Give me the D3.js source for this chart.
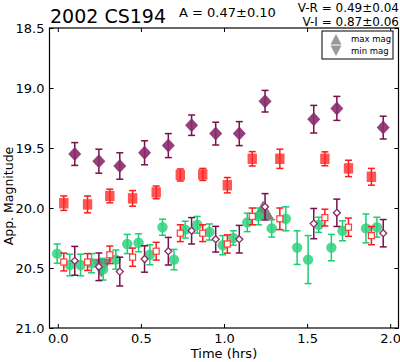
<!DOCTYPE html>
<html>
<head>
<meta charset="utf-8">
<script src="https://cdn.jsdelivr.net/npm/d3@7"></script>
<style>
  body { margin: 0; background: #fff; }
  text { font-family: "DejaVu Sans", sans-serif; }
</style>
</head>
<body>
<div id="chart"></div>
<script>
// lightcurve data (time in hrs, apparent magnitude, error)

// filled diamonds / open diamonds (shifted) share the same times
const iTime = [0.102, 0.247, 0.373, 0.522, 0.665, 0.805, 0.95, 1.092, 1.247, 1.54, 1.679, 1.958];
const iMag  = [19.55, 19.61, 19.65, 19.54, 19.48, 19.31, 19.38, 19.38, 19.11, 19.26, 19.17, 19.33];
const iErr  = [0.095, 0.10, 0.11, 0.10, 0.10, 0.085, 0.095, 0.10, 0.09, 0.115, 0.10, 0.095];
const ivMag = [20.44, 20.49, 20.53, 20.425, 20.36, 20.19, 20.26, 20.26, 19.99, 20.13, 20.04, 20.21];
const ivErr = [0.12, 0.115, 0.12, 0.11, 0.115, 0.11, 0.107, 0.115, 0.11, 0.126, 0.114, 0.114];

// filled squares / open squares (shifted)
const rTime = [0.036, 0.179, 0.313, 0.45, 0.592, 0.737, 0.872, 1.02, 1.17, 1.336, 1.607, 1.749, 1.887];
const rMag  = [19.96, 19.97, 19.90, 19.92, 19.87, 19.725, 19.72, 19.81, 19.59, 19.59, 19.59, 19.67, 19.74];
const rErr  = [0.06, 0.07, 0.057, 0.065, 0.053, 0.05, 0.05, 0.064, 0.06, 0.08, 0.058, 0.068, 0.07];
const rvMag = [20.45, 20.45, 20.39, 20.41, 20.36, 20.21, 20.21, 20.30, 20.07, 20.09, 20.08, 20.16, 20.23];
const rvErr = [0.074, 0.07, 0.073, 0.076, 0.074, 0.07, 0.07, 0.076, 0.07, 0.09, 0.07, 0.076, 0.076];

// green circles
const vTime = [-0.004, 0.072, 0.137, 0.203, 0.273, 0.349, 0.418, 0.486, 0.554, 0.63, 0.699, 0.767, 0.839, 0.912,
               0.992, 1.056, 1.14, 1.207, 1.287, 1.372, 1.44, 1.506, 1.57, 1.646, 1.713, 1.854, 1.92];
const vMag  = [20.38, 20.475, 20.475, 20.46, 20.51, 20.43, 20.30, 20.29, 20.39, 20.16, 20.43, 20.18, 20.14, 20.20,
               20.31, 20.25, 20.12, 20.07, 20.17, 20.09, 20.33, 20.43, 20.14, 20.33, 20.19, 20.17, 20.16];
const vErr  = [0.08, 0.09, 0.09, 0.08, 0.09, 0.08, 0.08, 0.075, 0.083, 0.067, 0.085, 0.07, 0.07, 0.067,
               0.08, 0.06, 0.077, 0.07, 0.072, 0.1, 0.14, 0.2, 0.063, 0.11, 0.083, 0.12, 0.083];

// max / min magnitude markers
const extTime = [1.235, 0.262];
const extMag  = [20.04, 20.475];
const extKind = ["max", "min"];

const xTicks = [0.0, 0.5, 1.0, 1.5, 2.0];
const yTicks = [18.5, 19.0, 19.5, 20.0, 20.5, 21.0];

const W = 400, H = 362;
const margin = {top: 28, right: 1.5, bottom: 34, left: 49.5},
    width = W - margin.left - margin.right,
    height = H - margin.top - margin.bottom;

const svg = d3.select("#chart")
  .append("svg")
    .attr("width", W)
    .attr("height", H)
  .append("g")
    .attr("transform", "translate(" + margin.left + "," + margin.top + ")");

const x = d3.scaleLinear().domain([-0.05, 2.05]).range([0, width]);
const y = d3.scaleLinear().domain([18.5, 21.0]).range([0, height]);

// axes, ticks pointing inward on all sides
const fmt = d3.format(".1f");
svg.append("g")
  .attr("transform", "translate(0," + height + ")")
  .call(d3.axisBottom(x).tickValues(xTicks).tickFormat(fmt).tickSizeInner(-4).tickSizeOuter(0).tickPadding(6));
svg.append("g")
  .call(d3.axisTop(x).tickValues(xTicks).tickFormat("").tickSizeInner(-4).tickSizeOuter(0));
svg.append("g")
  .call(d3.axisLeft(y).tickValues(yTicks).tickFormat(fmt).tickSizeInner(-4).tickSizeOuter(0).tickPadding(5));
svg.append("g")
  .attr("transform", "translate(" + width + ",0)")
  .call(d3.axisRight(y).tickValues(yTicks).tickFormat("").tickSizeInner(-4).tickSizeOuter(0));

svg.selectAll(".domain").remove();
svg.selectAll(".tick line").attr("stroke", "#000");
svg.selectAll(".tick text").style("font-size", "13px").attr("fill", "#000");

svg.append("rect")
  .attr("width", width).attr("height", height)
  .attr("fill", "none").attr("stroke", "#000").attr("stroke-width", 1.2);

// max/min triangles
const tri = d3.symbol().type(d3.symbolTriangle).size(200);
svg.selectAll(".ext")
  .data(extTime.map((t, i) => ({t: t, m: extMag[i], k: extKind[i]})))
  .enter().append("path")
    .attr("d", tri)
    .attr("transform", d => "translate(" + x(d.t) + "," + y(d.m) + ")" + (d.k == "min" ? " rotate(180)" : ""))
    .attr("fill", "#555")
    .attr("opacity", 0.75);

// error bars + markers
function series(times, mags, errs, barColor, drawMarker) {
  const data = times.map((t, i) => ({t: t, m: mags[i], e: errs[i]}));
  const g = svg.append("g");
  const bars = g.selectAll("g").data(data).enter().append("g");
  bars.append("line")
    .attr("x1", d => x(d.t)).attr("x2", d => x(d.t))
    .attr("y1", d => y(d.m - d.e)).attr("y2", d => y(d.m + d.e));
  bars.append("line")
    .attr("x1", d => x(d.t) - 3.5).attr("x2", d => x(d.t) + 3.5)
    .attr("y1", d => y(d.m - d.e)).attr("y2", d => y(d.m - d.e));
  bars.append("line")
    .attr("x1", d => x(d.t) - 3.5).attr("x2", d => x(d.t) + 3.5)
    .attr("y1", d => y(d.m + d.e)).attr("y2", d => y(d.m + d.e));
  bars.selectAll("line").attr("stroke", barColor).attr("stroke-width", 1.5);
  drawMarker(bars);
}

series(vTime, vMag, vErr, "#19cf72", b => b.append("circle")
  .attr("cx", d => x(d.t)).attr("cy", d => y(d.m)).attr("r", 5.2)
  .attr("fill", "#2fd17e").attr("opacity", 0.85));

series(rTime, rvMag, rvErr, "#ff1a1a", b => b.append("rect")
  .attr("x", d => x(d.t) - 3).attr("y", d => y(d.m) - 3)
  .attr("width", 6).attr("height", 6)
  .attr("fill", "#fff").attr("stroke", "#ff3b3b").attr("stroke-width", 1.2));

series(iTime, ivMag, ivErr, "#7a0f4c", b => b.append("path")
  .attr("d", d => { const cx = x(d.t), cy = y(d.m);
    return "M" + cx + "," + (cy - 3.5) + "L" + (cx + 3.5) + "," + cy + "L" + cx + "," + (cy + 3.5) + "L" + (cx - 3.5) + "," + cy + "Z"; })
  .attr("fill", "#fff").attr("stroke", "#8a2a66").attr("stroke-width", 1.3));

series(rTime, rMag, rErr, "#ff1a1a", b => b.append("rect")
  .attr("x", d => x(d.t) - 4.7).attr("y", d => y(d.m) - 5.2)
  .attr("width", 9.4).attr("height", 10.4)
  .attr("fill", "#ff2a2a").attr("opacity", 0.8));

series(iTime, iMag, iErr, "#7a0f4c", b => b.append("path")
  .attr("d", d => { const cx = x(d.t), cy = y(d.m);
    return "M" + cx + "," + (cy - 7) + "L" + (cx + 6.5) + "," + cy + "L" + cx + "," + (cy + 7) + "L" + (cx - 6.5) + "," + cy + "Z"; })
  .attr("fill", "#8a2b6c").attr("opacity", 0.9));

// legend
const leg = svg.append("g").attr("transform", "translate(" + (322 - margin.left) + "," + (31 - margin.top) + ")");
leg.append("rect").attr("width", 71).attr("height", 28)
  .attr("fill", "#fff").attr("stroke", "#000").attr("stroke-width", 1);
leg.append("path").attr("d", "M14,3 L19.5,13.5 L8.5,13.5 Z").attr("fill", "#999");
leg.append("path").attr("d", "M14,25 L19.5,14.5 L8.5,14.5 Z").attr("fill", "#999");
leg.append("text").attr("x", 29).attr("y", 11).style("font-size", "8.5px").text("max mag");
leg.append("text").attr("x", 29).attr("y", 23).style("font-size", "8.5px").text("min mag");

// titles and labels
const root = d3.select("#chart svg");
root.append("text").attr("x", 50).attr("y", 23).style("font-size", "19px").text("2002 CS194");
root.append("text").attr("x", 179).attr("y", 17).style("font-size", "13px").text("A  = 0.47\u00b10.10");
root.append("text").attr("x", 399).attr("y", 11.5).attr("text-anchor", "end").style("font-size", "12px").text("V-R = 0.49\u00b10.04");
root.append("text").attr("x", 399).attr("y", 26).attr("text-anchor", "end").style("font-size", "12px").text("V-I  = 0.87\u00b10.06");
root.append("text").attr("x", margin.left + width / 2).attr("y", 358).attr("text-anchor", "middle")
  .style("font-size", "13px").text("Time (hrs)");
root.append("text").attr("transform", "translate(13,196) rotate(-90)").attr("text-anchor", "middle")
  .style("font-size", "12.5px").text("App. Magnitude");
</script>
</body>
</html>
